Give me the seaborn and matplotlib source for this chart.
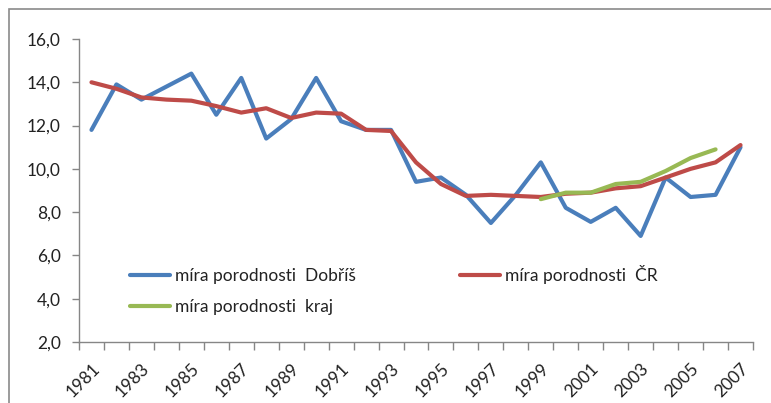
import numpy as np
import pandas as pd
import matplotlib
matplotlib.use("Agg")
import matplotlib.pyplot as plt
import seaborn as sns
from matplotlib.ticker import FixedLocator, FuncFormatter
from matplotlib.patches import Rectangle
from matplotlib.lines import Line2D

years = list(range(1981, 2008))
dobris = [11.8, 13.9, 13.2, 13.8, 14.4, 12.5, 14.2, 11.4, 12.3, 14.2, 12.2, 11.8, 11.8,
          9.4, 9.6, 8.8, 7.5, 8.8, 10.3, 8.2, 7.55, 8.2, 6.9, 9.6, 8.7, 8.8, 11.0]
cr = [14.0, 13.7, 13.3, 13.2, 13.15, 12.9, 12.6, 12.8, 12.35, 12.6, 12.55, 11.8, 11.75,
      10.3, 9.3, 8.75, 8.8, 8.75, 8.7, 8.85, 8.9, 9.1, 9.2, 9.6, 10.0, 10.3, 11.1]
kraj_years = list(range(1999, 2007))
kraj = [8.6, 8.9, 8.9, 9.3, 9.4, 9.9, 10.5, 10.9]

names = ["míra porodnosti  Dobříš", "míra porodnosti  ČR", "míra porodnosti  kraj"]
colors = ["#4A7EBB", "#BE4B48", "#98B954"]

rows = []
for y, v in zip(years, dobris):
    rows.append((y - years[0], v, names[0]))
for y, v in zip(years, cr):
    rows.append((y - years[0], v, names[1]))
for y, v in zip(kraj_years, kraj):
    rows.append((y - years[0], v, names[2]))
df = pd.DataFrame(rows, columns=["idx", "value", "series"])

sns.set_theme(style="white")
plt.rcParams["font.family"] = ["Lato", "DejaVu Sans"]

fig = plt.figure(figsize=(7.71, 4.03), dpi=100)
W, H = 771, 403
ax = fig.add_axes([79 / W, 1 - 342 / H, (753 - 79) / W, (342 - 39) / H])

sns.lineplot(data=df, x="idx", y="value", hue="series", hue_order=names,
             palette=dict(zip(names, colors)), linewidth=3.0, ax=ax, legend=False,
             solid_capstyle="round", solid_joinstyle="round")
ax.set_xlim(-0.5, len(years) - 0.5)
ax.set_ylim(2.0, 16.0)
ax.set_xlabel("")
ax.set_ylabel("")

ax.yaxis.set_major_locator(FixedLocator(np.arange(2, 16.01, 2)))
ax.yaxis.set_major_formatter(FuncFormatter(lambda v, p: f"{v:.1f}".replace(".", ",")))
ax.tick_params(axis="y", which="major", length=5, width=1, color="#868686",
               labelsize=12.5, labelcolor="#222222", pad=8, left=True)

ax.xaxis.set_major_locator(FixedLocator(list(range(0, len(years), 2))))
ax.set_xticklabels([str(y) for y in years[::2]], rotation=45, ha="right",
                   rotation_mode="anchor")
ax.xaxis.set_minor_locator(FixedLocator([i - 0.5 for i in range(len(years) + 1)]))
ax.tick_params(axis="x", which="major", length=0, labelsize=12.5, labelcolor="#222222",
               pad=13)
ax.tick_params(axis="x", which="minor", length=6, width=1, color="#868686", bottom=True)

for s in ["top", "right"]:
    ax.spines[s].set_visible(False)
for s in ["left", "bottom"]:
    ax.spines[s].set_color("#868686")
    ax.spines[s].set_linewidth(1)

handles = [Line2D([], [], color=colors[0], lw=3), Line2D([], [], color=colors[2], lw=3),
           Line2D([], [], color=colors[1], lw=3)]
labels = [names[0], names[2], names[1]]
fig.legend(handles, labels, ncol=2, loc="center left",
           bbox_to_anchor=(130 / W, 1 - 290 / H), frameon=False, fontsize=12.5,
           handlelength=2.3, handletextpad=0.3, columnspacing=6.0,
           labelspacing=0.85, borderpad=0, borderaxespad=0, labelcolor="#222222")

# outer chart border
fig.patches.append(Rectangle((9 / W, -0.1), 1.2, 1 - 9 / H + 0.1, transform=fig.transFigure,
                             fill=False, edgecolor="#8a8a8a", linewidth=1.2))

fig.savefig("out.png", dpi=100)
